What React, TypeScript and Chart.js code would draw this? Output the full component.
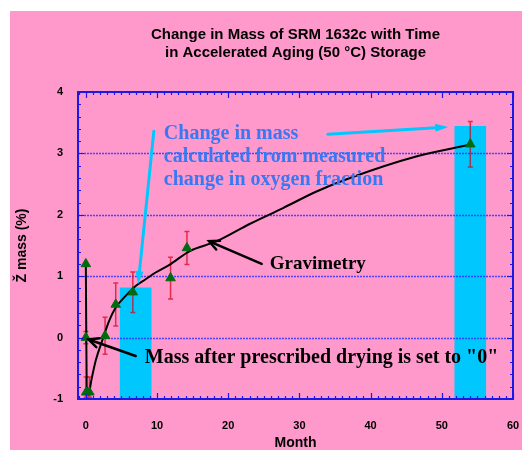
import React, { useEffect, useRef } from 'react';
import { Chart, registerables } from 'chart.js';

Chart.register(...registerables);

// ---------- data ----------
const titleLines = ['Change in Mass of SRM 1632c with Time', 'in Accelerated Aging (50 °C) Storage'];
const xTitle = 'Month';
const yTitle = 'Ž mass (%)';
const xTicks = [0, 10, 20, 30, 40, 50, 60];
const yTicks = [-1, 0, 1, 2, 3, 4];
const yGrid = [0, 1, 2, 3];

// oxygen-fraction based change in mass (cyan bars)
const barMonths = [7, 54];
const barMass = [0.81, 3.44];

// gravimetric measurements (triangles) with error bars
const ptMonths = [0, 0, 0.05, 0.5, 2.7, 4.2, 6.6, 11.9, 14.2, 54];
const ptMass = [1.2, 0, -0.89, -0.89, 0.03, 0.54, 0.74, 0.97, 1.46, 3.15];
const ptErr = [0, 0.1, 0.25, 0.25, 0.3, 0.35, 0.33, 0.34, 0.27, 0.37];

// gravimetry trend curve
const fitMonths = [0, 0.12, 0.35, 0.8, 1.4, 2.3, 3.3, 4.2, 5.6, 7.0, 8.4, 9.8, 11.8, 14.6, 18.4, 23, 27.7, 32.4, 37.1, 46.4, 53.9];
const fitMass = [1.22, -0.82, -0.93, -0.68, -0.37, -0.05, 0.28, 0.49, 0.68, 0.84, 0.95, 1.06, 1.19, 1.41, 1.57, 1.85, 2.11, 2.38, 2.6, 2.95, 3.14];

// annotations (data coordinates)
const noteLines = ['Change in mass', 'calculated from measured', 'change in oxygen fraction'];
const noteAt = [10.96, 3.24];
const gravLabel = 'Gravimetry';
const gravAt = [25.84, 1.12];
const zeroLabel = 'Mass after prescribed drying is set to "0"';
const zeroAt = [8.29, -0.42];
const cyanArrows = [
  [[9.55, 3.36], [7.35, 0.87]],
  [[34.0, 3.31], [50.9, 3.43]],
];
const blackArrows = [
  [[24.7, 1.2], [17.3, 1.57]],
  [[7.0, -0.3], [0.38, -0.03]],
];

const X_MIN = -1.1;
const X_MAX = 60;
const Y_MIN = -1;
const Y_MAX = 4;

const PINK = '#ff99cc';
const CYAN = '#00c8ff';
const BLUE_AXIS = '#1a1ae6';
const NOTE_BLUE = '#3a78f2';

function drawArrow(ctx: CanvasRenderingContext2D, x1: number, y1: number, x2: number, y2: number, color: string, width: number, filled: boolean) {
  const ang = Math.atan2(y2 - y1, x2 - x1);
  ctx.save();
  ctx.strokeStyle = color;
  ctx.fillStyle = color;
  ctx.lineWidth = width;
  ctx.lineCap = 'round';
  ctx.beginPath();
  ctx.moveTo(x1, y1);
  ctx.lineTo(x2 - (filled ? 8 : 1) * Math.cos(ang), y2 - (filled ? 8 : 1) * Math.sin(ang));
  ctx.stroke();
  if (filled) {
    const L = 13, W = 4;
    const bx = x2 - L * Math.cos(ang), by = y2 - L * Math.sin(ang);
    ctx.beginPath();
    ctx.moveTo(x2, y2);
    ctx.lineTo(bx + W * Math.sin(ang), by - W * Math.cos(ang));
    ctx.lineTo(bx - W * Math.sin(ang), by + W * Math.cos(ang));
    ctx.closePath();
    ctx.fill();
  } else {
    const L = 11, a = 0.45;
    ctx.beginPath();
    ctx.moveTo(x2 - L * Math.cos(ang - a), y2 - L * Math.sin(ang - a));
    ctx.lineTo(x2, y2);
    ctx.lineTo(x2 - L * Math.cos(ang + a), y2 - L * Math.sin(ang + a));
    ctx.stroke();
  }
  ctx.restore();
}

const decorPlugin = {
  id: 'decor',
  afterDatasetDraw(chart: any, args: any) {
    if (args.index !== 0) return;
    const { ctx, chartArea: ca, scales } = chart;
    const xs = scales.x, ys = scales.y;
    ctx.save();
    ctx.beginPath();
    ctx.rect(ca.left, ca.top, ca.right - ca.left, ca.bottom - ca.top);
    ctx.clip();
    // dotted grid lines
    ctx.strokeStyle = 'rgba(50,50,255,0.85)';
    ctx.lineWidth = 1.5;
    ctx.setLineDash([2, 1]);
    yGrid.forEach((v) => {
      const y = Math.round(ys.getPixelForValue(v)) + 0.5;
      ctx.beginPath();
      ctx.moveTo(ca.left, y);
      ctx.lineTo(ca.right, y);
      ctx.stroke();
    });
    ctx.setLineDash([]);
    // error bars
    ctx.strokeStyle = 'rgba(215,0,25,0.72)';
    ctx.lineWidth = 1.5;
    ptMonths.forEach((m, i) => {
      const e = ptErr[i];
      if (!e) return;
      const x = xs.getPixelForValue(m);
      const yt = ys.getPixelForValue(ptMass[i] + e);
      const yb = ys.getPixelForValue(Math.max(ptMass[i] - e, Y_MIN + 0.03));
      ctx.beginPath();
      ctx.moveTo(x, yt);
      ctx.lineTo(x, yb);
      ctx.moveTo(x - 2.5, yt);
      ctx.lineTo(x + 2.5, yt);
      ctx.moveTo(x - 2.5, yb);
      ctx.lineTo(x + 2.5, yb);
      ctx.stroke();
    });
    ctx.restore();
  },
  afterDraw(chart: any) {
    const { ctx, chartArea: ca, scales } = chart;
    const xs = scales.x, ys = scales.y;
    ctx.save();
    // frame
    ctx.strokeStyle = BLUE_AXIS;
    ctx.lineWidth = 2;
    ctx.strokeRect(ca.left, ca.top, ca.right - ca.left, ca.bottom - ca.top);
    // inner ticks
    ctx.lineWidth = 1.2;
    ctx.beginPath();
    for (let m = Math.ceil(X_MIN); m <= X_MAX; m += 1) {
      const x = Math.round(xs.getPixelForValue(m)) + 0.5;
      const len = m % 10 === 0 ? 6 : 3;
      ctx.moveTo(x, ca.bottom);
      ctx.lineTo(x, ca.bottom - len);
      ctx.moveTo(x, ca.top);
      ctx.lineTo(x, ca.top + len);
    }
    for (let k = 0; k <= 25; k++) {
      const v = Y_MIN + k * 0.2;
      const y = Math.round(ys.getPixelForValue(v)) + 0.5;
      const len = k % 5 === 0 ? 6 : 3;
      ctx.moveTo(ca.left, y);
      ctx.lineTo(ca.left + len, y);
      ctx.moveTo(ca.right, y);
      ctx.lineTo(ca.right - len, y);
    }
    ctx.stroke();

    const cx = (ca.left + ca.right) / 2;
    // title
    ctx.fillStyle = '#000';
    ctx.textAlign = 'center';
    ctx.textBaseline = 'middle';
    ctx.font = 'bold 15px "Liberation Sans", Arial, sans-serif';
    ctx.fillText(titleLines[0], cx, 24);
    ctx.fillText(titleLines[1], cx, 42);
    // axis titles
    ctx.font = 'bold 14px "Liberation Sans", Arial, sans-serif';
    ctx.fillText(xTitle, cx, 432);
    ctx.save();
    ctx.translate(12, (ca.top + ca.bottom) / 2);
    ctx.rotate(-Math.PI / 2);
    ctx.fillText(yTitle, 0, 0);
    ctx.restore();

    // arrows
    cyanArrows.forEach(([a, b]) => {
      drawArrow(ctx, xs.getPixelForValue(a[0]), ys.getPixelForValue(a[1]), xs.getPixelForValue(b[0]), ys.getPixelForValue(b[1]), CYAN, 3, true);
    });
    blackArrows.forEach(([a, b]) => {
      drawArrow(ctx, xs.getPixelForValue(a[0]), ys.getPixelForValue(a[1]), xs.getPixelForValue(b[0]), ys.getPixelForValue(b[1]), '#000', 2.5, false);
    });

    // notes
    ctx.textAlign = 'left';
    ctx.textBaseline = 'alphabetic';
    ctx.font = 'bold 20px "Liberation Serif", "Times New Roman", serif';
    ctx.fillStyle = NOTE_BLUE;
    const nx = xs.getPixelForValue(noteAt[0]);
    const ny = ys.getPixelForValue(noteAt[1]);
    noteLines.forEach((t, i) => ctx.fillText(t, nx, ny + i * 23));
    ctx.fillStyle = '#000';
    ctx.fillText(zeroLabel, xs.getPixelForValue(zeroAt[0]), ys.getPixelForValue(zeroAt[1]));
    ctx.font = 'bold 19px "Liberation Serif", "Times New Roman", serif';
    ctx.fillText(gravLabel, xs.getPixelForValue(gravAt[0]), ys.getPixelForValue(gravAt[1]));
    ctx.restore();
  },
};

export default function App() {
  const ref = useRef<HTMLCanvasElement | null>(null);
  useEffect(() => {
    if (!ref.current) return;
    const tickFont = { family: '"Liberation Sans", Arial, sans-serif', size: 11, weight: 'bold' as const };
    const chart = new Chart(ref.current, {
      type: 'line',
      data: {
        datasets: [
          {
            type: 'bar',
            data: barMonths.map((m, i) => ({ x: m, y: barMass[i] })),
            base: Y_MIN,
            backgroundColor: CYAN,
            borderWidth: 0,
            barThickness: 31,
            order: 3,
          } as any,
          {
            type: 'line',
            data: fitMonths.map((m, i) => ({ x: m, y: fitMass[i] })),
            borderColor: '#000',
            borderWidth: 2,
            pointRadius: 0,
            cubicInterpolationMode: 'monotone',
            fill: false,
            order: 2,
          },
          {
            type: 'line',
            data: ptMonths.map((m, i) => ({ x: m, y: ptMass[i] })),
            showLine: false,
            pointStyle: 'triangle',
            pointRadius: 5.5,
            pointBackgroundColor: '#006a10',
            pointBorderColor: '#006a10',
            pointBorderWidth: 1,
            order: 1,
          },
        ],
      },
      options: {
        animation: false,
        responsive: false,
        devicePixelRatio: 1,
        layout: { padding: { top: 81, right: 9, left: 0, bottom: 0 } },
        plugins: { legend: { display: false }, tooltip: { enabled: false }, title: { display: false } },
        scales: {
          x: {
            type: 'linear',
            min: X_MIN,
            max: X_MAX,
            offset: false,
            grid: { display: false, drawTicks: false, offset: false },
            border: { display: false },
            ticks: { font: tickFont, color: '#000', padding: 20, maxRotation: 0 },
            afterBuildTicks: (s: any) => { s.ticks = xTicks.map((v) => ({ value: v })); },
            afterFit: (s: any) => { s.height = 51; s.paddingLeft = 0; s.paddingRight = 0; },
          },
          y: {
            type: 'linear',
            min: Y_MIN,
            max: Y_MAX,
            grid: { display: false, drawTicks: false },
            border: { display: false },
            ticks: { font: tickFont, color: '#000', padding: 15 },
            afterBuildTicks: (s: any) => { s.ticks = yTicks.map((v) => ({ value: v })); },
            afterFit: (s: any) => { s.width = 68; s.paddingTop = 0; s.paddingBottom = 0; },
          },
        },
      } as any,
      plugins: [decorPlugin],
    });
    return () => chart.destroy();
  }, []);
  return (
    <div style={{ position: 'absolute', left: 10, top: 11, width: 512, height: 439 }}>
      <canvas ref={ref} width={512} height={439} style={{ display: 'block', background: PINK, width: 512, height: 439 }} />
    </div>
  );
}
